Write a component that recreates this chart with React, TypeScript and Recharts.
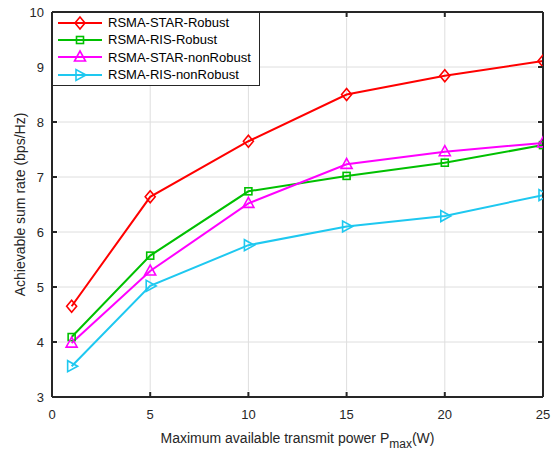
import { CartesianGrid, Line, LineChart, XAxis, YAxis, Label } from "recharts";

const FRAME = "#262626";
const GRID = "#dedede";
const FONT = "'Liberation Sans', Arial, Helvetica, sans-serif";
const TICK_LEN = 5;
const FRAME_W = 2;

const POWER = [1, 5, 10, 15, 20, 25];
const STAR_ROBUST = [4.65, 6.64, 7.65, 8.5, 8.84, 9.11];
const RIS_ROBUST = [4.09, 5.57, 6.74, 7.02, 7.26, 7.58];
const STAR_NONROBUST = [3.98, 5.29, 6.52, 7.23, 7.46, 7.62];
const RIS_NONROBUST = [3.56, 5.02, 5.76, 6.1, 6.29, 6.67];

const X_TICKS = [0, 5, 10, 15, 20, 25];
const Y_TICKS = [3, 4, 5, 6, 7, 8, 9, 10];
// interior grid lines only; the box edges are drawn by the axes
const X_GRID = X_TICKS.slice(1, -1);
const Y_GRID = Y_TICKS.slice(1, -1);

type Marker = "diamond" | "square" | "triangle" | "right";

const SERIES: { key: string; name: string; color: string; marker: Marker; values: number[] }[] = [
  { key: "starRobust", name: "RSMA-STAR-Robust", color: "#ff0000", marker: "diamond", values: STAR_ROBUST },
  { key: "risRobust", name: "RSMA-RIS-Robust", color: "#00c000", marker: "square", values: RIS_ROBUST },
  { key: "starNon", name: "RSMA-STAR-nonRobust", color: "#ff00ff", marker: "triangle", values: STAR_NONROBUST },
  { key: "risNon", name: "RSMA-RIS-nonRobust", color: "#1ec8f0", marker: "right", values: RIS_NONROBUST },
];

const data = POWER.map((p, i) => {
  const row: Record<string, number> = { p };
  SERIES.forEach((s) => (row[s.key] = s.values[i]));
  return row;
});

function markerShape(type: Marker, cx: number, cy: number, color: string, k?: string) {
  const common = { fill: "none", stroke: color, strokeWidth: 1.6, key: k };
  if (type === "diamond")
    return <path {...common} d={`M${cx},${cy - 6}L${cx + 5},${cy}L${cx},${cy + 6}L${cx - 5},${cy}Z`} />;
  if (type === "square") return <rect {...common} x={cx - 3.5} y={cy - 3.5} width={7} height={7} />;
  if (type === "triangle")
    return <path {...common} d={`M${cx},${cy - 6}L${cx + 5.5},${cy + 4}L${cx - 5.5},${cy + 4}Z`} />;
  return <path {...common} d={`M${cx + 6},${cy}L${cx - 4},${cy - 5.5}L${cx - 4},${cy + 5.5}Z`} />;
}

// with tickSize=0 and tickMargin=0 the tick (x, y) sits on the axis line; ticks point inward
const bottomTick = (p: any) => (
  <g>
    <path d={`M${p.x},${p.y}V${p.y - TICK_LEN}`} stroke={FRAME} strokeWidth={FRAME_W} />
    <text x={p.x} y={p.y + 22} textAnchor="middle" fontSize={13} fill={FRAME} fontFamily={FONT}>
      {p.payload.value}
    </text>
  </g>
);
const leftTick = (p: any) => (
  <g>
    <path d={`M${p.x},${p.y}H${p.x + TICK_LEN}`} stroke={FRAME} strokeWidth={FRAME_W} />
    <text x={p.x - 8} y={p.y + 4.5} textAnchor="end" fontSize={13} fill={FRAME} fontFamily={FONT}>
      {p.payload.value}
    </text>
  </g>
);
const topTick = (p: any) => (
  <path d={`M${p.x},${p.y}V${p.y + TICK_LEN}`} stroke={FRAME} strokeWidth={FRAME_W} />
);
const rightTick = (p: any) => (
  <path d={`M${p.x},${p.y}H${p.x - TICK_LEN}`} stroke={FRAME} strokeWidth={FRAME_W} />
);

// grid positions come from the axis scales, interior values only
const hCoords = (g: any) => {
  const sc = g?.yAxis?.scale;
  if (typeof sc === "function") return Y_GRID.map((v) => sc(v));
  const o = g?.offset;
  return o ? Y_GRID.map((v) => o.top + (o.height * (10 - v)) / 7) : [];
};
const vCoords = (g: any) => {
  const sc = g?.xAxis?.scale;
  if (typeof sc === "function") return X_GRID.map((v) => sc(v));
  const o = g?.offset;
  return o ? X_GRID.map((v) => o.left + (o.width * v) / 25) : [];
};

const near = (a: number, b: number) => Math.abs(a - b) < 1.5;

// grid lines skip the box edges and stop short of it so the inward ticks stay dark
const vGrid = (p: any) => {
  if (near(p.x1, p.x) || near(p.x1, p.x + p.width)) return <g key={p.key} />;
  return (
    <line key={p.key} x1={p.x1} x2={p.x2} y1={p.y1 + TICK_LEN + 1} y2={p.y2 - TICK_LEN - 1} stroke={GRID} strokeWidth={1} />
  );
};
const hGrid = (p: any) => {
  if (near(p.y1, p.y) || near(p.y1, p.y + p.height)) return <g key={p.key} />;
  return (
    <line key={p.key} x1={p.x1 + TICK_LEN + 1} x2={p.x2 - TICK_LEN - 1} y1={p.y1} y2={p.y2} stroke={GRID} strokeWidth={1} />
  );
};

function LegendBox() {
  return (
    <div
      style={{
        position: "absolute",
        left: 52,
        top: 12,
        border: `1.5px solid ${FRAME}`,
        background: "#fff",
        padding: "1px 8px 2px 3px",
        fontFamily: FONT,
        fontSize: 13,
        color: "#000",
        lineHeight: "17.3px",
      }}
    >
      {SERIES.map((s) => (
        <div key={s.key} style={{ display: "flex", alignItems: "center", whiteSpace: "nowrap" }}>
          <svg width={48} height={16} style={{ marginRight: 4 }}>
            <line x1={2} x2={46} y1={8} y2={8} stroke={s.color} strokeWidth={2} />
            {markerShape(s.marker, 24, 8, s.color)}
          </svg>
          <span>{s.name}</span>
        </div>
      ))}
    </div>
  );
}

function XLabel(props: any) {
  const vb = props.viewBox || {};
  const cx = vb.x + vb.width / 2;
  const y = vb.y + 46;
  return (
    <text x={cx} y={y} textAnchor="middle" fontSize={14} fill={FRAME} fontFamily={FONT}>
      Maximum available transmit power P
      <tspan fontSize={12} dy={5}>max</tspan>
      <tspan dy={-5}>(W)</tspan>
    </text>
  );
}

const frameLine = { stroke: FRAME, strokeWidth: FRAME_W };

export default function App() {
  return (
    <div style={{ position: "absolute", left: 0, top: 0, width: 553, height: 451, background: "#fff", fontFamily: FONT }}>
      <LineChart width={553} height={451} data={data} margin={{ top: 12, right: 10, bottom: 0, left: 0 }}>
        <CartesianGrid
          xAxisId="main"
          yAxisId="left"
          stroke={GRID}
          horizontalCoordinatesGenerator={hCoords}
          verticalCoordinatesGenerator={vCoords}
          horizontal={hGrid}
          vertical={vGrid}
        />
        <XAxis
          xAxisId="main"
          dataKey="p"
          type="number"
          domain={[0, 25]}
          ticks={X_TICKS}
          height={54}
          tickLine={false}
          tickSize={0}
          tickMargin={0}
          stroke={FRAME}
          axisLine={frameLine}
          tick={bottomTick}
          allowDataOverflow
        >
          <Label content={XLabel} />
        </XAxis>
        <XAxis
          xAxisId="top"
          dataKey="p"
          type="number"
          domain={[0, 25]}
          ticks={X_TICKS}
          orientation="top"
          mirror
          height={1}
          tickSize={0}
          tickMargin={0}
          tickLine={false}
          stroke={FRAME}
          axisLine={frameLine}
          tick={topTick}
          allowDataOverflow
        />
        <YAxis
          yAxisId="left"
          type="number"
          domain={[3, 10]}
          ticks={Y_TICKS}
          width={52}
          tickLine={false}
          tickSize={0}
          tickMargin={0}
          stroke={FRAME}
          axisLine={frameLine}
          tick={leftTick}
          allowDataOverflow
        >
          <Label
            value="Achievable sum rate (bps/Hz)"
            angle={-90}
            position="insideLeft"
            offset={20}
            style={{ textAnchor: "middle", fontSize: 14, fill: FRAME, fontFamily: FONT }}
          />
        </YAxis>
        <YAxis
          yAxisId="right"
          dataKey="starRobust"
          type="number"
          domain={[3, 10]}
          ticks={Y_TICKS}
          orientation="right"
          mirror
          width={1}
          tickSize={0}
          tickMargin={0}
          tickLine={false}
          stroke={FRAME}
          axisLine={frameLine}
          tick={rightTick}
          allowDataOverflow
        />
        {SERIES.map((s) => (
          <Line
            key={s.key}
            xAxisId="main"
            yAxisId="left"
            type="linear"
            dataKey={s.key}
            name={s.name}
            stroke={s.color}
            strokeWidth={2}
            isAnimationActive={false}
            dot={(p: any) => markerShape(s.marker, p.cx, p.cy, s.color, `${s.key}-${p.index}`)}
            activeDot={false}
          />
        ))}
      </LineChart>
      <LegendBox />
    </div>
  );
}
